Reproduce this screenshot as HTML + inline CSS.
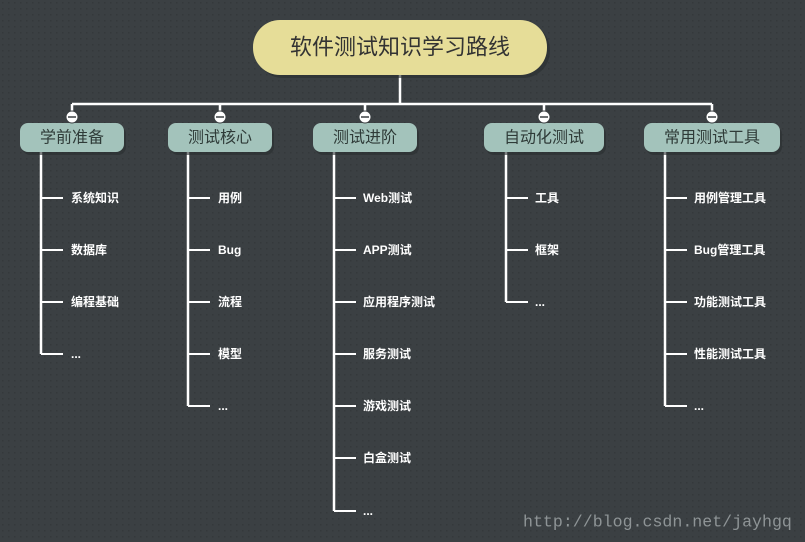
<!DOCTYPE html>
<html><head><meta charset="utf-8"><style>
html,body{margin:0;padding:0;background:#3b4043;}
svg{display:block}
text{font-family:"Liberation Sans","Noto Sans CJK SC",sans-serif;}
.it{fill:#fff;font-size:12px;font-weight:bold;dominant-baseline:central}
.br{fill:#2f3b38;font-size:16px;text-anchor:middle;dominant-baseline:central}
</style></head><body>
<svg width="805" height="542" viewBox="0 0 805 542" xmlns="http://www.w3.org/2000/svg">
<defs><pattern id="p" width="6" height="6" patternUnits="userSpaceOnUse"><rect width="6" height="6" fill="#3b4043"/><rect x="2" y="2" width="1.5" height="1.5" fill="#34393b"/></pattern></defs>
<rect width="805" height="542" fill="url(#p)"/>
<g stroke="#fff" stroke-width="2.5" fill="none">
<path d="M400 75V104M72 104H712M72 104V117M220 104V117M365 104V117M544 104V117M712 104V117"/>
<path d="M41 152V354M188 152V406M334 152V511M506 152V302M665 152V406"/>
</g>
<g stroke="#fff" stroke-width="2">
<path d="M41 198h22M41 250h22M41 302h22M41 354h22"/>
<path d="M188 198h22M188 250h22M188 302h22M188 354h22M188 406h22"/>
<path d="M334 198h22M334 250h22M334 302h22M334 354h22M334 406h22M334 458h22M334 511h22"/>
<path d="M506 198h22M506 250h22M506 302h22"/>
<path d="M665 198h22M665 250h22M665 302h22M665 354h22M665 406h22"/>
</g>
<rect x="256" y="23" width="294" height="55" rx="27" fill="#2a2e30" opacity=".6"/>
<rect x="253" y="20" width="294" height="55" rx="27" fill="#e6dd98"/>
<text x="400" y="47" text-anchor="middle" dominant-baseline="central" font-size="22" fill="#333">软件测试知识学习路线</text>
<g fill="#2a2e30" opacity=".6">
<rect x="22" y="126" width="104" height="29" rx="8"/><rect x="170" y="126" width="104" height="29" rx="8"/><rect x="315" y="126" width="104" height="29" rx="8"/><rect x="486" y="126" width="120" height="29" rx="8"/><rect x="646" y="126" width="136" height="29" rx="8"/>
</g>
<g fill="#a3c3bb">
<rect x="20" y="123" width="104" height="29" rx="8"/><rect x="168" y="123" width="104" height="29" rx="8"/><rect x="313" y="123" width="104" height="29" rx="8"/><rect x="484" y="123" width="120" height="29" rx="8"/><rect x="644" y="123" width="136" height="29" rx="8"/>
</g>
<text class="br" x="72" y="138">学前准备</text><text class="br" x="220" y="138">测试核心</text><text class="br" x="365" y="138">测试进阶</text><text class="br" x="544" y="138">自动化测试</text><text class="br" x="712" y="138">常用测试工具</text>
<g fill="#fff" stroke="#3b4043" stroke-width="1">
<circle cx="72" cy="117" r="6"/><circle cx="220" cy="117" r="6"/><circle cx="365" cy="117" r="6"/><circle cx="544" cy="117" r="6"/><circle cx="712" cy="117" r="6"/>
</g>
<g stroke="#3b4043" stroke-width="1.5"><path d="M68 117h8M216 117h8M361 117h8M540 117h8M708 117h8"/></g>
<text class="it" x="71" y="198">系统知识</text><text class="it" x="71" y="250">数据库</text><text class="it" x="71" y="302">编程基础</text><text class="it" x="71" y="354">...</text>
<text class="it" x="218" y="198">用例</text><text class="it" x="218" y="250">Bug</text><text class="it" x="218" y="302">流程</text><text class="it" x="218" y="354">模型</text><text class="it" x="218" y="406">...</text>
<text class="it" x="363" y="198">Web测试</text><text class="it" x="363" y="250">APP测试</text><text class="it" x="363" y="302">应用程序测试</text><text class="it" x="363" y="354">服务测试</text><text class="it" x="363" y="406">游戏测试</text><text class="it" x="363" y="458">白盒测试</text><text class="it" x="363" y="511">...</text>
<text class="it" x="535" y="198">工具</text><text class="it" x="535" y="250">框架</text><text class="it" x="535" y="302">...</text>
<text class="it" x="694" y="198">用例管理工具</text><text class="it" x="694" y="250">Bug管理工具</text><text class="it" x="694" y="302">功能测试工具</text><text class="it" x="694" y="354">性能测试工具</text><text class="it" x="694" y="406">...</text>
<text x="523" y="522" style="font-family:'Liberation Mono',monospace;font-size:16.6px;fill:#8e9496;dominant-baseline:central">http://blog.csdn.net/jayhgq</text>
</svg>
</body></html>
